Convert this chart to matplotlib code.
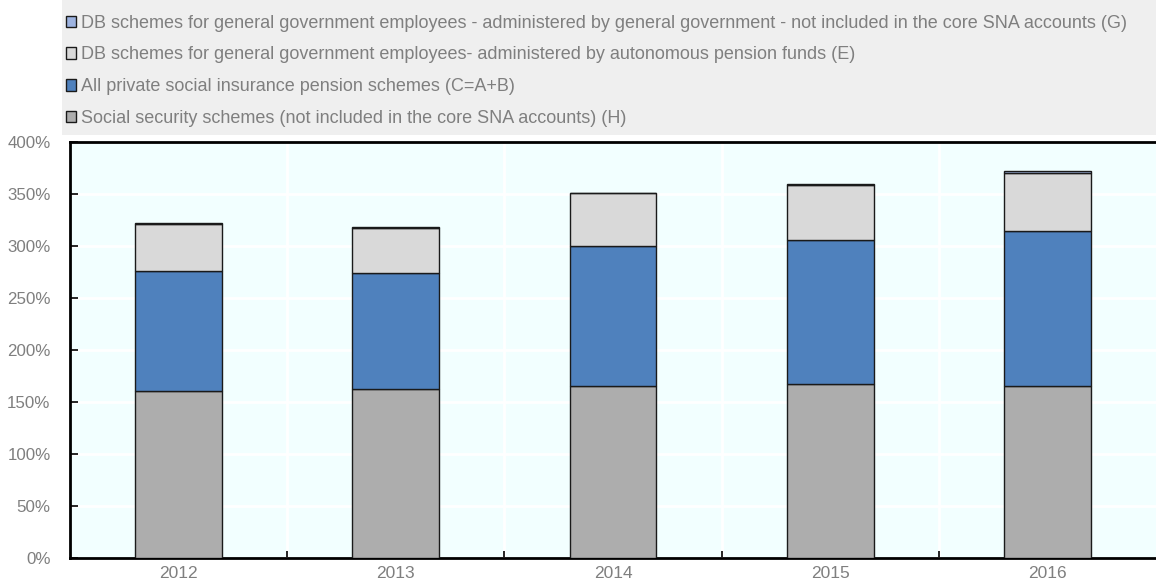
import numpy as np
import matplotlib.pyplot as plt
from matplotlib.patches import Rectangle
from matplotlib.ticker import FuncFormatter

plt.rcParams['font.family'] = ['Liberation Sans Narrow', 'Liberation Sans', 'DejaVu Sans']

years = ['2012', '2013', '2014', '2015', '2016']

# stacked components, % of GDP
social_security = [160.3, 162.2, 165.1, 167.0, 165.5]   # H
private_schemes = [115.4, 111.5, 134.4, 138.5, 149.1]   # C=A+B
db_autonomous = [45.3, 43.1, 51.0, 52.7, 55.8]          # E
db_general_gov = [1.2, 1.5, 0.8, 1.3, 1.5]              # G

labels = [
    'Social security schemes (not included in the core SNA accounts) (H)',
    'All private social insurance pension schemes (C=A+B)',
    'DB schemes for general government employees- administered by autonomous pension funds (E)',
    'DB schemes for general government employees - administered by general government - not included in the core SNA accounts (G)',
]
colors = ['#ADADAD', '#4F81BD', '#D9D9D9', '#9DB3E0']
text_grey = '#7F7F7F'

fig = plt.figure(figsize=(11.56, 5.84), dpi=100)
ax = fig.add_axes([70 / 1156, 1 - 557.5 / 584, 1 - 70 / 1156, (557.5 - 142) / 584])
ax.set_facecolor('#F2FFFF')

x = np.arange(len(years))
bottom = np.zeros(len(years))
handles = []
for vals, col, lab in zip([social_security, private_schemes, db_autonomous, db_general_gov], colors, labels):
    b = ax.bar(x, vals, width=0.4, bottom=bottom, color=col, edgecolor='#1A1A1A',
               linewidth=1.0, label=lab, zorder=3)
    handles.append(b)
    bottom += np.array(vals)

ax.set_xlim(-0.5, len(years) - 0.5)
ax.set_ylim(0, 400)
ax.set_yticks(np.arange(0, 401, 50))
ax.yaxis.set_major_formatter(FuncFormatter(lambda v, _: f'{v:.0f}%'))
ax.set_xticks(x)
ax.set_xticklabels(years)
ax.set_xticks(np.arange(0.5, len(years) - 0.5, 1), minor=True)

ax.grid(axis='y', color='white', linewidth=2, zorder=0)
ax.grid(axis='x', which='minor', color='white', linewidth=2, zorder=0)
ax.set_axisbelow(True)

ax.tick_params(axis='y', direction='in', length=6, width=1.2, labelsize=12.2,
               labelcolor=text_grey, pad=14)
ax.tick_params(axis='x', which='major', length=0, labelsize=12.5, labelcolor=text_grey, pad=6)
ax.tick_params(axis='x', which='minor', direction='in', length=5, width=1.2)

for side in ['left', 'bottom', 'top']:
    ax.spines[side].set_linewidth(2.0)
    ax.spines[side].set_color('black')
ax.spines['right'].set_visible(False)

# legend panel above the plot
fig.patches.append(Rectangle((62 / 1156, 1 - 135 / 584), 1 - 62 / 1156, 135 / 584,
                             transform=fig.transFigure, facecolor='#EFEFEF',
                             edgecolor='none', zorder=0))
leg = fig.legend(handles[::-1], labels[::-1], loc='upper left',
                 bbox_to_anchor=(62 / 1156, 1 - 11 / 584), frameon=False,
                 fontsize=13, labelcolor=text_grey, handlelength=0.6, handleheight=0.6,
                 handletextpad=0.25, labelspacing=0.82, borderaxespad=0, borderpad=0.2)

fig.savefig('out.png', dpi=100)
